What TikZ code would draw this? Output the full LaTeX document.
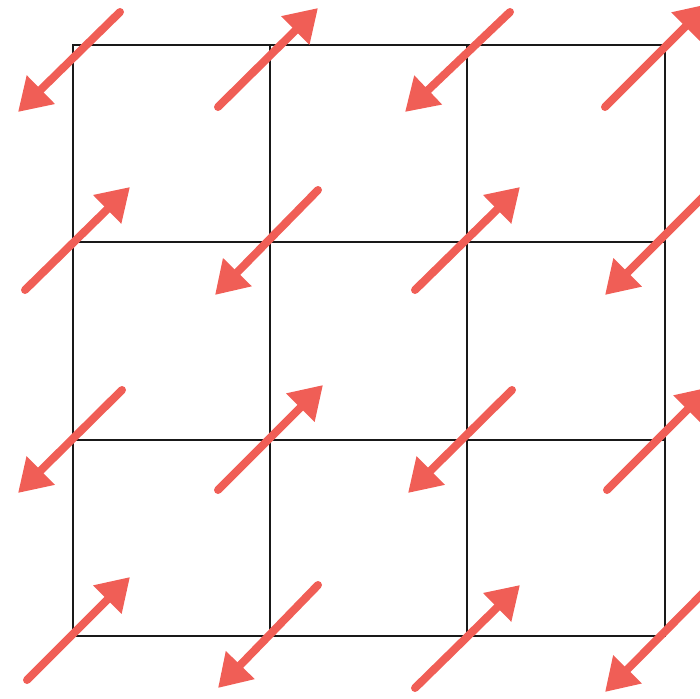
\documentclass[tikz,border=0pt]{standalone}
\usetikzlibrary{arrows.meta}
\definecolor{arrowred}{RGB}{240,94,86}
\tikzset{
  gridline/.style={line width=2.8pt, black!90},
  vec/.style={line width=8pt, arrowred, line cap=round, -{Triangle[length=32pt,width=38pt]}}
}
\begin{document}
\begin{tikzpicture}[x=1pt,y=-1pt]
\useasboundingbox (0,0) rectangle (700,698);
\clip (0,0) rectangle (700,698);
% grid
\draw[gridline] (73,45) rectangle (665,636);
\foreach \x in {270,467} \draw[gridline] (\x,45) -- (\x,636);
\foreach \y in {242,440} \draw[gridline] (73,\y) -- (665,\y);
% row 0
\draw[vec] (120,12) -- (18,112);
\draw[vec] (218,107) -- (318,8);
\draw[vec] (510,12) -- (405,112);
\draw[vec] (605,107) -- (708,4);
% row 1
\draw[vec] (25,290) -- (130,187);
\draw[vec] (318,190) -- (215,295);
\draw[vec] (415,290) -- (520,187);
\draw[vec] (710,190) -- (605,295);
% row 2
\draw[vec] (122,390) -- (18,493);
\draw[vec] (218,490) -- (323,385);
\draw[vec] (512,390) -- (408,493);
\draw[vec] (607,490) -- (710,387);
% row 3
\draw[vec] (27,680) -- (130,577);
\draw[vec] (318,585) -- (218,688);
\draw[vec] (415,688) -- (520,585);
\draw[vec] (708,588) -- (605,692);
\end{tikzpicture}
\end{document}
